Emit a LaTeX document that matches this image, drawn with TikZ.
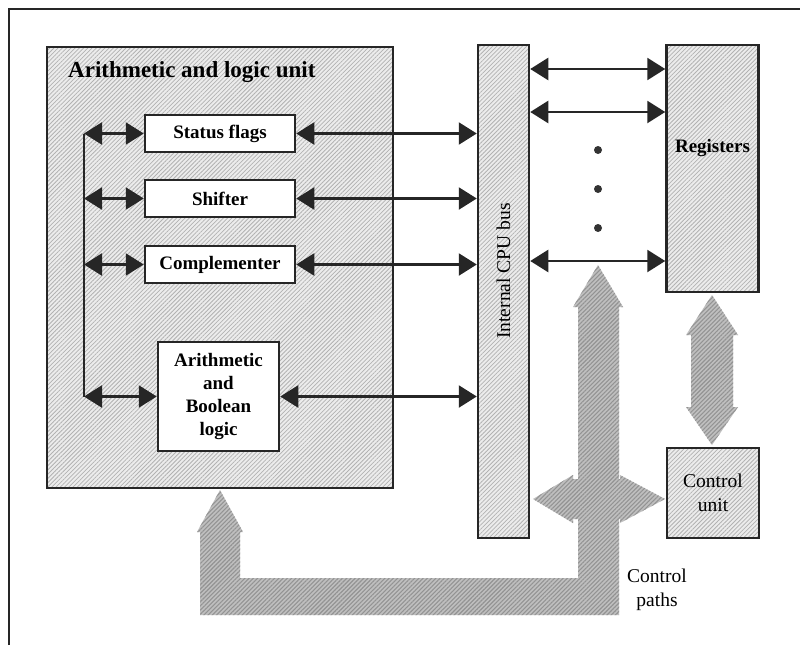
\documentclass[tikz,border=0pt]{standalone}
\usepackage{fontspec}
\setmainfont{Liberation Serif}
\usetikzlibrary{arrows.meta,patterns.meta}
\begin{document}
\begin{tikzpicture}[x=1pt,y=-1pt,
  box/.style={draw=black!85, line width=2.5pt, inner sep=0pt, align=center},
  hatchbox/.style={box, preaction={fill=gray!15}, pattern={Lines[angle=45,distance=3pt,line width=0.8pt]}, pattern color=gray!60},
  whitebox/.style={box, fill=white, font=\bfseries\fontsize{19}{23.3}\selectfont},
  dbl/.style={line width=2.4pt, draw=black!85, {Triangle[length=18pt,width=22pt]}-{Triangle[length=18pt,width=22pt]}},
  bigarrow/.style={preaction={fill=gray!50}, pattern={Lines[angle=45,distance=3pt,line width=1.1pt]}, pattern color=gray!85},
  dot/.style={circle, fill=black!80, inner sep=0pt, minimum size=8pt},
  lbl/.style={font=\fontsize{19.5}{24}\selectfont, align=center, inner sep=0pt},
]
\useasboundingbox (0,0) rectangle (800,645);
\fill[white] (0,0) rectangle (800,645);
% outer frame
\draw[line width=2pt, black!85] (9,645) -- (9,9) -- (800,9);

% ALU
\node[hatchbox, minimum width=346, minimum height=441] (alu) at (220,267.5) {};
\node[font=\bfseries\fontsize{23}{27}\selectfont, anchor=west, inner sep=0pt] (title) at (68,72) {Arithmetic and logic unit};
\node[whitebox, minimum width=150, minimum height=37] (sf) at (220,133.5) {Status flags};
\node[whitebox, minimum width=150, minimum height=37] (sh) at (220,198.5) {Shifter};
\node[whitebox, minimum width=150, minimum height=37] (co) at (220,264.5) {Complementer};
\node[whitebox, minimum width=121, minimum height=109] (ab) at (218.5,396.5) {Arithmetic\\and\\Boolean\\logic};

% bus, registers, control unit
\node[hatchbox, minimum width=51, minimum height=493] (bus) at (503.5,291.5) {};
\node[lbl, rotate=90] (buslbl) at (503.5,271) {Internal CPU bus};
\node[hatchbox, minimum width=92, minimum height=247] (reg) at (712.5,168.5) {};
\node[lbl, font=\bfseries\fontsize{19}{23}\selectfont] (reglbl) at (712.5,148) {Registers};
\node[hatchbox, lbl, minimum width=92, minimum height=90] (cu) at (713,493) {Control\\unit};

% ALU internal connectors
\coordinate (vl) at (84,0);
\draw[line width=2.4pt, black!85] (vl |- sf.west) -- (vl |- ab.west);
\foreach \n in {sf,sh,co,ab} {
  \draw[dbl] (vl |- \n.west) -- (\n.west);
  \draw[dbl] (\n.east) -- (bus.west |- \n.east);
}

% bus to registers
\foreach \yy in {69,112,261} {
  \draw[dbl] (bus.east |- 0,\yy) -- (reg.west |- 0,\yy);
}
\node[dot] (d1) at (598,150) {};
\node[dot] (d2) at (598,189) {};
\node[dot] (d3) at (598,228) {};

% control paths
\path[bigarrow] (220,490) -- (243,532) -- (240,532) -- (240,578) -- (578,578) -- (578,307)
  -- (573,307) -- (598,265) -- (623,307) -- (619,307) -- (619,615) -- (200,615)
  -- (200,532) -- (197,532) -- cycle;
\path[bigarrow] (533,499) -- (573,475) -- (573,479) -- (620,479) -- (620,475) -- (665,499)
  -- (620,523) -- (620,519) -- (573,519) -- (573,523) -- cycle;
\path[bigarrow] (712,295) -- (738,335) -- (733,335) -- (733,407) -- (738,407) -- (712,445)
  -- (686,407) -- (691,407) -- (691,335) -- (686,335) -- cycle;
\node[lbl] (cpl) at (657,590) {Control\\paths};
\end{tikzpicture}
\end{document}
